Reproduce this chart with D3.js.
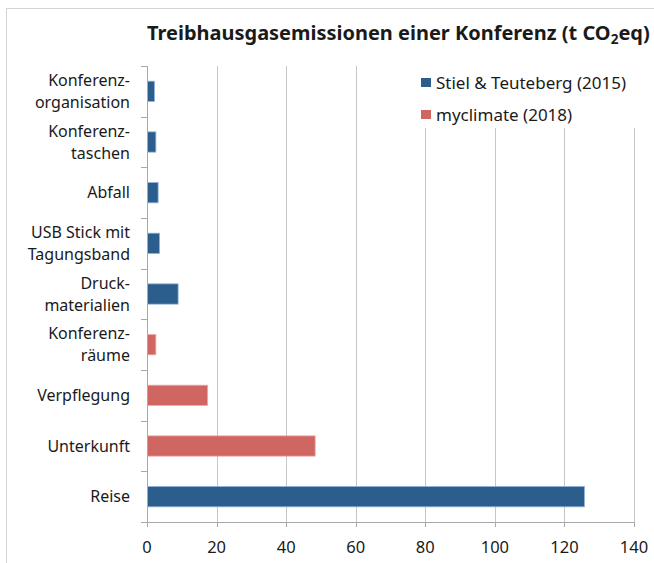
<!DOCTYPE html>
<html>
<head>
<meta charset="utf-8">
<script src="https://cdn.jsdelivr.net/npm/d3@7"></script>
<style>
  html, body { margin: 0; padding: 0; background: #fff; }
  svg { display: block; }
  text { font-family: "Noto Sans", sans-serif; fill: #1a1a1a; }
</style>
</head>
<body>
<svg id="chart" width="654" height="563"></svg>
<script>
// ---- data ----
const categories = ["Konferenzorganisation", "Konferenztaschen", "Abfall", "USB Stick mit Tagungsband",
  "Druckmaterialien", "Konferenzräume", "Verpflegung", "Unterkunft", "Reise"];
const categoryLines = [["Konferenz-", "organisation"], ["Konferenz-", "taschen"], ["Abfall"],
  ["USB Stick mit", "Tagungsband"], ["Druck-", "materialien"], ["Konferenz-", "räume"],
  ["Verpflegung"], ["Unterkunft"], ["Reise"]];
const values = [2.0, 2.4, 3.05, 3.45, 8.8, 2.4, 17.3, 48.2, 125.6];
const sourceIndex = [0, 0, 0, 0, 0, 1, 1, 1, 0];
const seriesNames = ["Stiel & Teuteberg (2015)", "myclimate (2018)"];
const seriesColors = ["#2B5D8D", "#CF6661"];
const seriesStroke = ["#8FB0D6", "#F0A9A5"];
const xTicks = [0, 20, 40, 60, 80, 100, 120, 140];

(function draw() {
const svg = d3.select("#chart");
const pLeft = 147, pRight = 634, pTop = 66, pBottom = 522;

const x = d3.scaleLinear().domain([0, 140]).range([pLeft, pRight]);
const y = d3.scaleBand().domain(categories).range([pTop, pBottom]).paddingInner(0.6).paddingOuter(0.3);

// outer frame
svg.append("rect").attr("x", 6.5).attr("y", 8.5).attr("width", 700).attr("height", 600)
  .attr("fill", "none").attr("stroke", "#d4d4d4").attr("stroke-width", 1);

// title
const title = svg.append("text").attr("x", 147).attr("y", 40)
  .attr("font-weight", "bold").attr("font-size", 18);
title.append("tspan").text("Treibhausgasemissionen einer Konferenz (t CO");
const sub = title.append("tspan").attr("font-size", 12).attr("dy", 4).text("2");
title.append("tspan").attr("dy", -4).text("eq)");
const tw = title.node().getComputedTextLength();
const target = 503;
if (tw > 0) {
  const s = 18 * target / tw;
  title.attr("font-size", s);
  sub.attr("font-size", s * 0.68);
}

// gridlines
svg.append("g").selectAll("line").data(xTicks.filter(d => d > 0)).join("line")
  .attr("x1", d => Math.round(x(d)) + 0.5).attr("x2", d => Math.round(x(d)) + 0.5)
  .attr("y1", pTop).attr("y2", pBottom)
  .attr("stroke", "#c6c6c6").attr("stroke-width", 1);

// legend background (covers gridlines)
svg.append("rect").attr("x", 412).attr("y", pTop - 1).attr("width", 236).attr("height", 63)
  .attr("fill", "#fff");

// bars
svg.append("g").selectAll("rect").data(categories).join("rect")
  .attr("x", x(0) + 0.5)
  .attr("y", d => y(d))
  .attr("width", (d, i) => x(values[i]) - x(0))
  .attr("height", y.bandwidth())
  .attr("fill", (d, i) => seriesColors[sourceIndex[i]])
  .attr("stroke", (d, i) => seriesStroke[sourceIndex[i]])
  .attr("stroke-width", 0.8);

// y axis line and ticks (band boundaries)
const axisColor = "#a9a9a9";
svg.append("line").attr("x1", pLeft + 0.5).attr("x2", pLeft + 0.5).attr("y1", pTop).attr("y2", pBottom + 5)
  .attr("stroke", axisColor);
const boundaries = d3.range(categories.length + 1).map(i => pTop + i * y.step());
svg.append("g").selectAll("line").data(boundaries).join("line")
  .attr("x1", pLeft - 6).attr("x2", pLeft)
  .attr("y1", d => Math.round(d) + 0.5).attr("y2", d => Math.round(d) + 0.5)
  .attr("stroke", axisColor);

// x axis line and ticks
svg.append("line").attr("x1", pLeft).attr("x2", pRight + 1).attr("y1", pBottom + 0.5).attr("y2", pBottom + 0.5)
  .attr("stroke", axisColor);
svg.append("g").selectAll("line").data(xTicks).join("line")
  .attr("x1", d => Math.round(x(d)) + 0.5).attr("x2", d => Math.round(x(d)) + 0.5)
  .attr("y1", pBottom).attr("y2", pBottom + 5)
  .attr("stroke", axisColor);

// x tick labels
svg.append("g").selectAll("text").data(xTicks).join("text")
  .attr("x", d => x(d)).attr("y", 553)
  .attr("text-anchor", "middle").attr("font-size", 16.5)
  .text(d => d);

// y category labels (one text element per line)
const lab = svg.append("g").selectAll("g").data(categories).join("g")
  .attr("transform", d => `translate(130,${y(d) + y.bandwidth() / 2})`);
lab.each(function(d, i) {
  const lines = categoryLines[i];
  const n = lines.length;
  d3.select(this).selectAll("text").data(lines).join("text")
    .attr("text-anchor", "end").attr("font-size", 16)
    .attr("x", 0)
    .attr("y", (l, j) => (j - (n - 1) / 2) * 22)
    .attr("dy", "0.35em")
    .text(l => l);
});

// legend
const leg = svg.append("g").selectAll("g").data(seriesNames).join("g")
  .attr("transform", (d, i) => `translate(421,${89 + i * 32})`);
leg.append("rect").attr("x", 0).attr("y", -11).attr("width", 10).attr("height", 9)
  .attr("fill", (d, i) => seriesColors[i]);
leg.append("text").attr("x", 15).attr("y", 0).attr("font-size", 17).text(d => d);
})();
</script>
</body>
</html>
